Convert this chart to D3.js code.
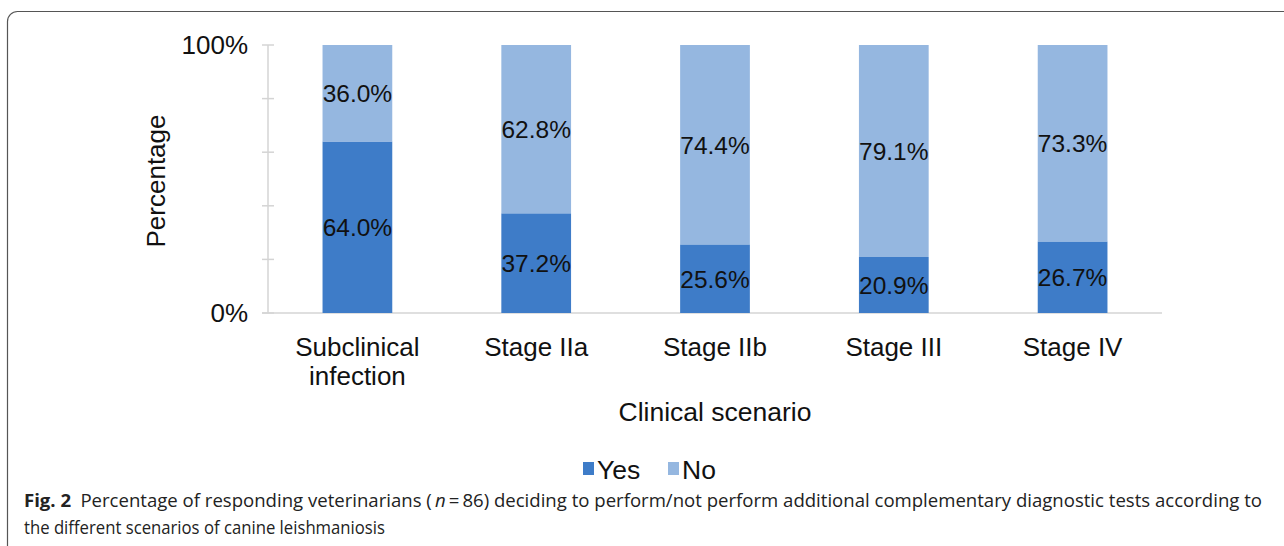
<!DOCTYPE html>
<html>
<head>
<meta charset="utf-8">
<script src="https://cdn.jsdelivr.net/npm/d3@7"></script>
<style>
	html, body { margin: 0; padding: 0; background: #fff; }
	svg { display: block; }
</style>
</head>
<body>
<div id="chart"></div>
<script>
const categories = [["Subclinical", "infection"], ["Stage IIa"], ["Stage IIb"], ["Stage III"], ["Stage IV"]];
const yesValues = [64.0, 37.2, 25.6, 20.9, 26.7];
const noValues = [36.0, 62.8, 74.4, 79.1, 73.3];
const seriesNames = ["Yes", "No"];
const yTicks = [0, 20, 40, 60, 80, 100];
const yTickLabels = ["0%", "", "", "", "", "100%"];

const width = 1284, height = 546;
const colors = { Yes: "#3e7cc8", No: "#95b7e0" };
const axisGrey = "#d4d4d4";
const chartFont = "'Liberation Sans', Arial, sans-serif";

const svg = d3.select("#chart").append("svg")
	.attr("width", width)
	.attr("height", height);

// panel frame (rounded, runs off right and bottom)
svg.append("rect")
	.attr("x", 7.5).attr("y", 11.5)
	.attr("width", 1400).attr("height", 700)
	.attr("rx", 10)
	.attr("fill", "none")
	.attr("stroke", "#555")
	.attr("stroke-width", 1.2);

const x = d3.scaleBand()
	.domain(d3.range(categories.length))
	.range([268, 1162])
	.padding(0);

const y = d3.scaleLinear()
	.domain([0, 100])
	.range([313, 45]);

const barW = x.bandwidth() * 0.39;

const rows = categories.map((c, i) => ({ i, Yes: yesValues[i], No: noValues[i] }));
const stacked = d3.stack().keys(seriesNames)(rows);

// y axis
const yAxis = svg.append("g");
yAxis.append("line")
	.attr("x1", 268).attr("x2", 268)
	.attr("y1", y(100)).attr("y2", y(0))
	.attr("stroke", axisGrey).attr("stroke-width", 1.5);
yAxis.selectAll("line.tick")
	.data(yTicks)
	.join("line")
	.attr("class", "tick")
	.attr("x1", 262).attr("x2", 274)
	.attr("y1", d => y(d)).attr("y2", d => y(d))
	.attr("stroke", axisGrey).attr("stroke-width", 1.5);
yAxis.selectAll("text")
	.data(yTicks)
	.join("text")
	.attr("x", 248)
	.attr("y", d => y(d))
	.attr("dy", "0.36em")
	.attr("text-anchor", "end")
	.attr("font-family", chartFont)
	.attr("font-size", 26)
	.attr("fill", "#111")
	.text((d, i) => yTickLabels[i]);

// x axis line
svg.append("line")
	.attr("x1", 262).attr("x2", 1162)
	.attr("y1", y(0)).attr("y2", y(0))
	.attr("stroke", axisGrey).attr("stroke-width", 1.5);

// bars
const layer = svg.append("g").selectAll("g")
	.data(stacked)
	.join("g")
	.attr("fill", d => colors[d.key]);

layer.selectAll("rect")
	.data(d => d)
	.join("rect")
	.attr("x", d => x(d.data.i) + (x.bandwidth() - barW) / 2)
	.attr("y", d => y(d[1]))
	.attr("width", barW)
	.attr("height", d => y(d[0]) - y(d[1]));

layer.selectAll("text")
	.data(d => d.map(p => ({ p, key: d.key })))
	.join("text")
	.attr("x", d => x(d.p.data.i) + x.bandwidth() / 2)
	.attr("y", d => (y(d.p[0]) + y(d.p[1])) / 2)
	.attr("dy", "0.36em")
	.attr("text-anchor", "middle")
	.attr("font-family", chartFont)
	.attr("font-size", 24.5)
	.attr("fill", "#111")
	.text(d => d.p.data[d.key].toFixed(1) + "%");

// category labels
svg.append("g").selectAll("text")
	.data(categories)
	.join("text")
	.attr("x", (d, i) => x(i) + x.bandwidth() / 2)
	.attr("y", 356)
	.attr("text-anchor", "middle")
	.attr("font-family", chartFont)
	.attr("font-size", 26)
	.attr("fill", "#111")
	.selectAll("tspan")
	.data(d => d)
	.join("tspan")
	.attr("x", function() { return this.parentNode.getAttribute("x"); })
	.attr("dy", (d, i) => i === 0 ? "0px" : "29px")
	.text(d => d);

// axis titles
svg.append("text")
	.attr("x", 715).attr("y", 421)
	.attr("text-anchor", "middle")
	.attr("font-family", chartFont)
	.attr("font-size", 26.5)
	.attr("fill", "#111")
	.text("Clinical scenario");

svg.append("text")
	.attr("transform", "translate(165,181) rotate(-90)")
	.attr("text-anchor", "middle")
	.attr("font-family", chartFont)
	.attr("font-size", 26)
	.attr("fill", "#111")
	.text("Percentage");

// legend
const legend = svg.append("g").attr("font-family", chartFont).attr("font-size", 26.5);
const legendItems = [{ key: "Yes", x: 583 }, { key: "No", x: 668 }];
legend.selectAll("rect")
	.data(legendItems)
	.join("rect")
	.attr("x", d => d.x).attr("y", 462)
	.attr("width", 11).attr("height", 13)
	.attr("fill", d => colors[d.key]);
legend.selectAll("text")
	.data(legendItems)
	.join("text")
	.attr("x", d => d.x + 14).attr("y", 479)
	.attr("fill", "#111")
	.text(d => d.key);

// caption
const capFont = "'Open Sans', 'Noto Sans', sans-serif";
const cap1 = svg.append("text")
	.attr("x", 24).attr("y", 507)
	.attr("font-family", capFont)
	.attr("font-size", 18.5)
	.attr("fill", "#222")
	.attr("textLength", 1238)
	.attr("lengthAdjust", "spacingAndGlyphs");
cap1.append("tspan").attr("font-weight", "bold").text("Fig. 2");
cap1.append("tspan").text("\u2002Percentage of responding veterinarians (\u2009");
cap1.append("tspan").attr("font-style", "italic").text("n");
cap1.append("tspan").text("\u2009=\u200986) deciding to perform/not perform additional complementary diagnostic tests according to");

svg.append("text")
	.attr("x", 24).attr("y", 534)
	.attr("font-family", capFont)
	.attr("font-size", 18.5)
	.attr("fill", "#222")
	.attr("textLength", 361)
	.attr("lengthAdjust", "spacingAndGlyphs")
	.text("the different scenarios of canine leishmaniosis");
</script>
</body>
</html>
